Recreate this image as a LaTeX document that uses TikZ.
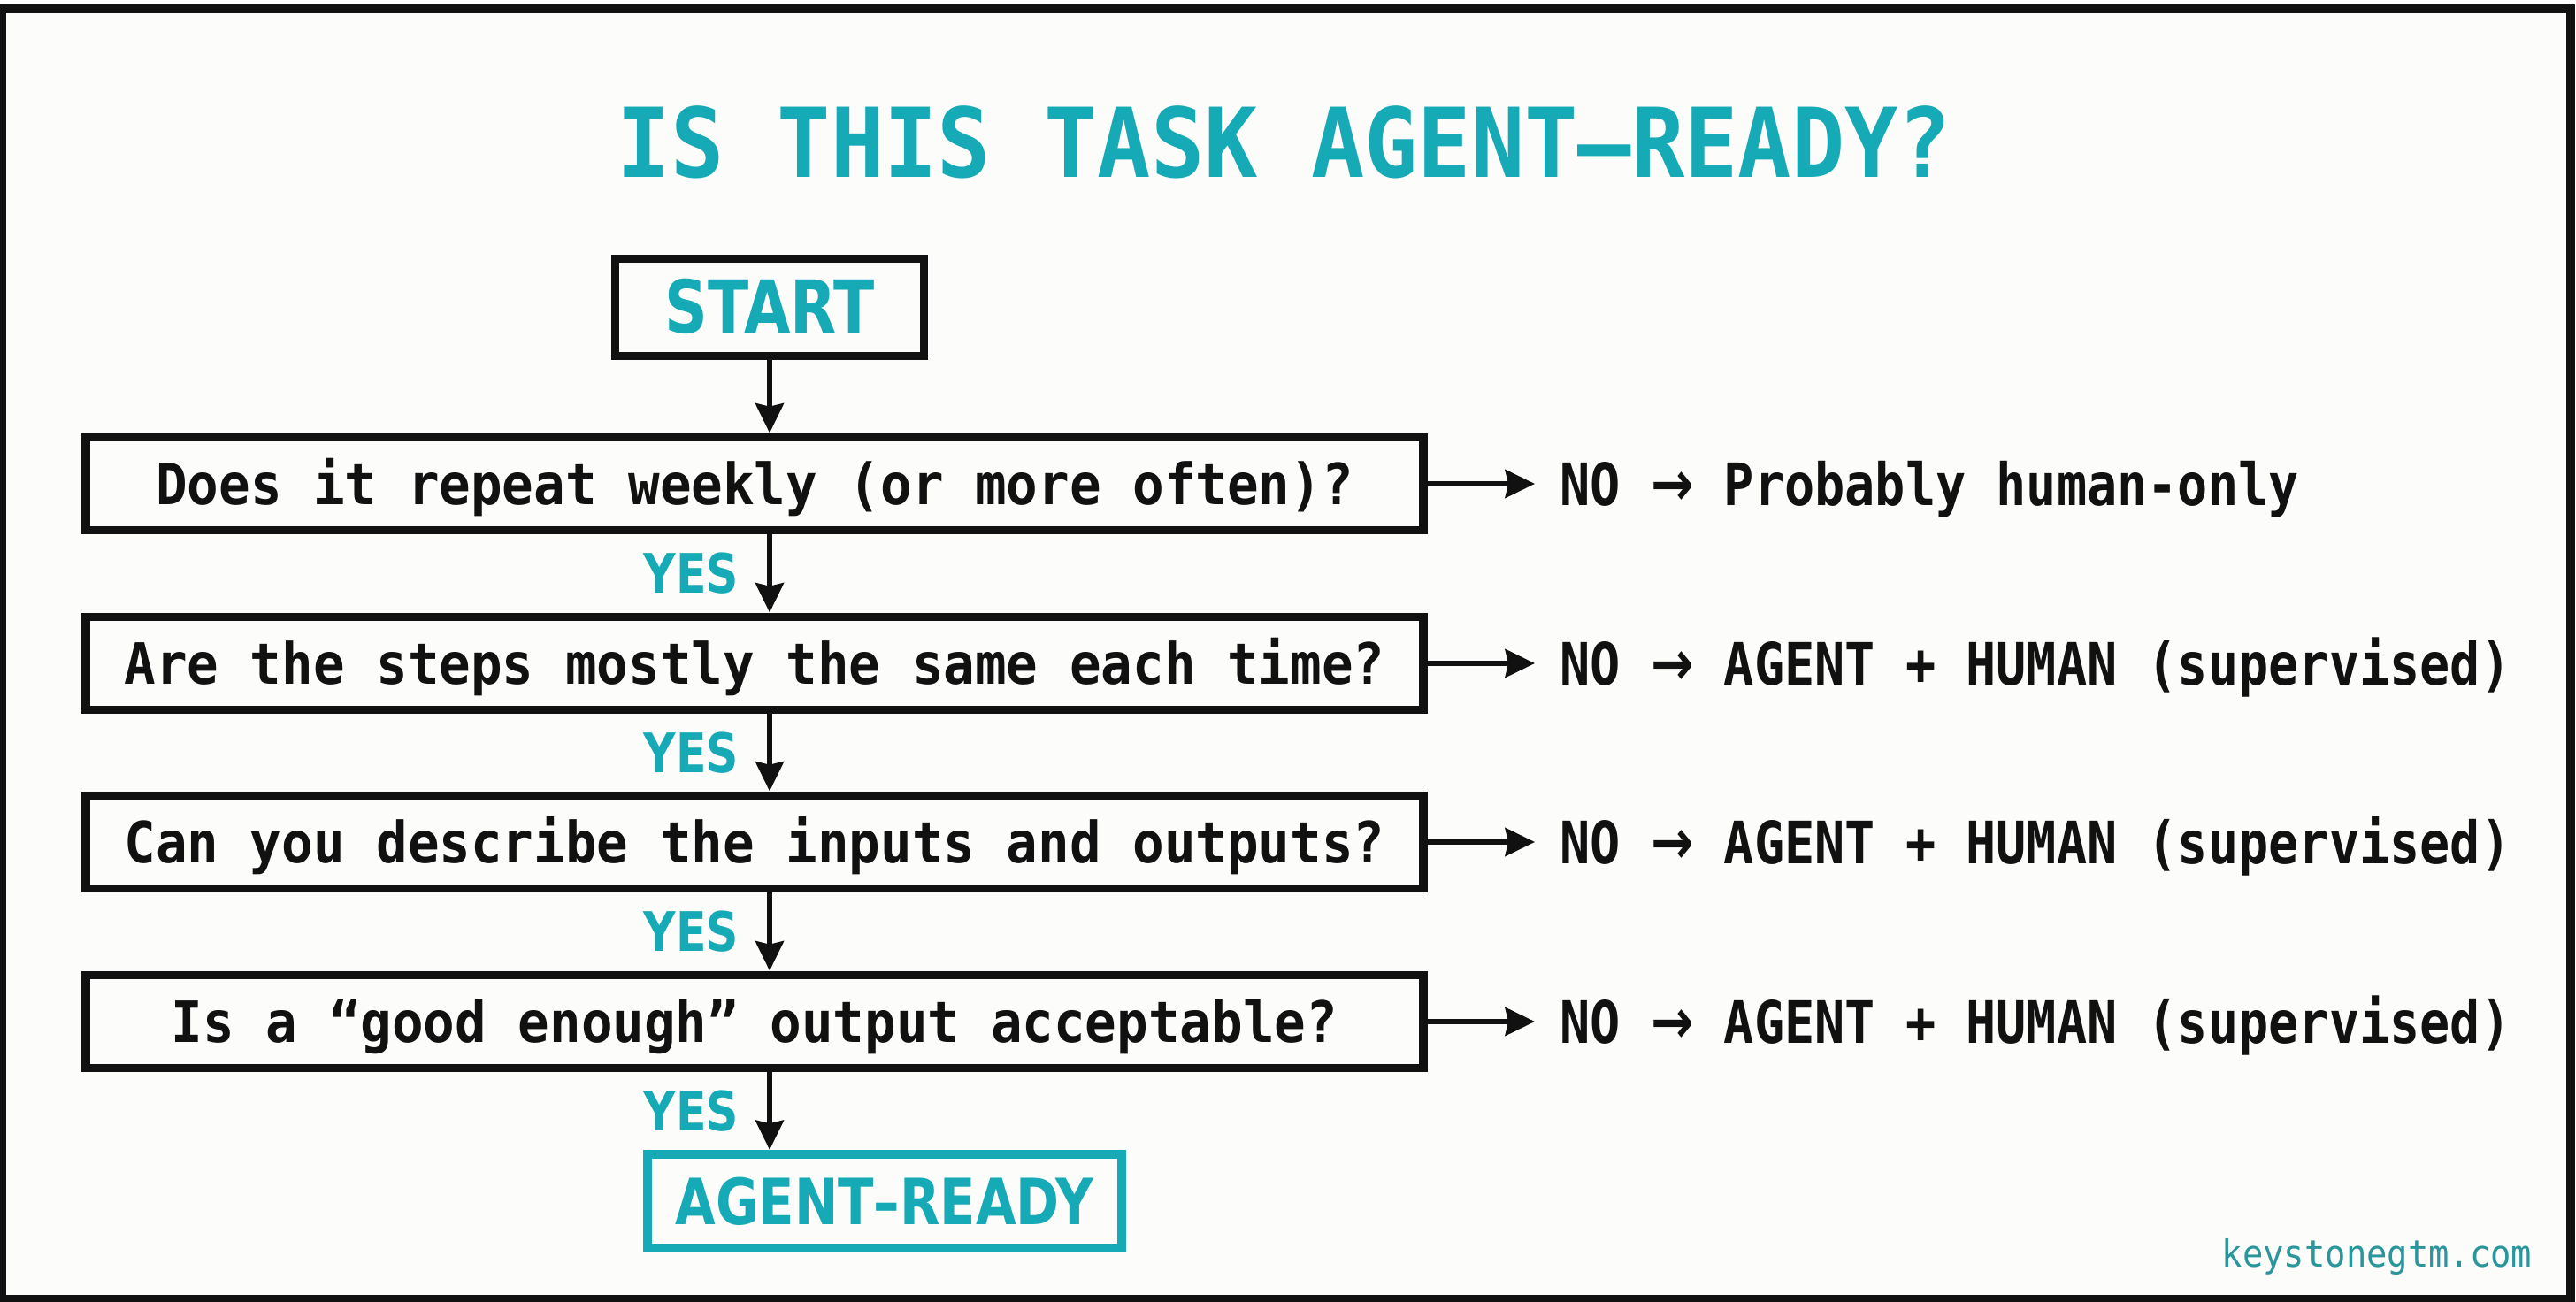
\documentclass[tikz,border=0pt]{standalone}
\usepackage{fontspec}
\usepackage{tikz}
\usetikzlibrary{arrows.meta}
\newfontfamily\qfont[FakeStretch=0.92]{DejaVu Sans Mono}
\newfontfamily\vfont[FakeStretch=0.86]{DejaVu Sans Mono}
\newfontfamily\tagfont[FakeStretch=0.82]{DejaVu Sans}
\newcommand{\noarrow}{{\tagfont\bfseries\fontsize{20}{20}\selectfont →}}
\definecolor{teal1}{RGB}{22,170,182}
\definecolor{teal2}{RGB}{42,150,156}
\definecolor{ink}{RGB}{17,17,17}
\definecolor{paper}{RGB}{252,252,250}
\tikzset{
  question/.style={draw=ink, line width=2.8pt, minimum width=15.12cm, minimum height=1.05cm,
    inner sep=0pt, text height=13.4pt, text depth=0pt, text=ink,
    font=\qfont\bfseries\fontsize{18.3}{20}\selectfont},
  tagbox/.style={line width=2.8pt, inner sep=0pt, text depth=0pt, text=teal1},
  verdict/.style={anchor=west, inner sep=0pt, text height=13.7pt, text depth=0pt, text=ink,
    font=\vfont\bfseries\fontsize{18.8}{20}\selectfont},
  yes/.style={inner sep=0pt, text height=12.7pt, text depth=0pt, text=teal1,
    font=\tagfont\bfseries\fontsize{17.5}{20}\selectfont},
  flow/.style={draw=ink, line width=1.8pt, -{Stealth[length=9.5pt,width=9pt,inset=1pt]}}
}
\begin{document}
\begin{tikzpicture}
    \useasboundingbox (0,0) rectangle (29.12,14.72);
    \draw [draw=ink, fill=paper, line width=2.8pt] (0.02,0.035) rectangle (29.06,14.62);
    \node [anchor=base, inner sep=0pt, text=teal1, font=\qfont\bfseries\fontsize{31}{34}\selectfont] (t) at (14.52, 12.71) {IS THIS TASK AGENT–READY?};
    \node [tagbox, draw=ink, minimum width=3.49cm, minimum height=1.10cm, text height=16.5pt,
      font=\tagfont\bfseries\fontsize{23.5}{26}\selectfont] (0) at (8.70, 11.245) {START};
	\node [question] (1) at (8.53, 9.25) {Does it repeat weekly (or more often)?};
	\node [question] (2) at (8.53, 7.22) {Are the steps mostly the same each time?};
	\node [question] (3) at (8.53, 5.20) {Can you describe the inputs and outputs?};
	\node [question] (4) at (8.53, 3.17) {Is a “good enough” output acceptable?};
	\node [tagbox, draw=teal1, minimum width=5.36cm, minimum height=1.06cm, text height=15.1pt,
      font=\tagfont\bfseries\fontsize{20.5}{24}\selectfont] (5) at (10.00, 1.14) {AGENT–READY};
	\node [verdict] (6) at (17.63, 9.25) {NO \noarrow{} Probably human-only};
	\node [verdict] (7) at (17.63, 7.22) {NO \noarrow{} AGENT + HUMAN (supervised)};
	\node [verdict] (8) at (17.63, 5.20) {NO \noarrow{} AGENT + HUMAN (supervised)};
	\node [verdict] (9) at (17.63, 3.17) {NO \noarrow{} AGENT + HUMAN (supervised)};
	\node [anchor=base east, inner sep=0pt, text=teal2, font=\qfont\fontsize{12}{14}\selectfont] (10) at (28.63, 0.39) {keystonegtm.com};
	% edges
	\draw [flow] (0.south) to (1.north -| 0.south);
	\draw [flow] (1.south -| 0.south) to node [yes, left=0.32cm] {YES} (2.north -| 0.south);
	\draw [flow] (2.south -| 0.south) to node [yes, left=0.32cm] {YES} (3.north -| 0.south);
	\draw [flow] (3.south -| 0.south) to node [yes, left=0.32cm] {YES} (4.north -| 0.south);
	\draw [flow] (4.south -| 0.south) to node [yes, left=0.32cm] {YES} (5.north -| 0.south);
	\draw [flow, shorten >=0.28cm] (1.east) to (6.west);
	\draw [flow, shorten >=0.28cm] (2.east) to (7.west);
	\draw [flow, shorten >=0.28cm] (3.east) to (8.west);
	\draw [flow, shorten >=0.28cm] (4.east) to (9.west);
\end{tikzpicture}
\end{document}
